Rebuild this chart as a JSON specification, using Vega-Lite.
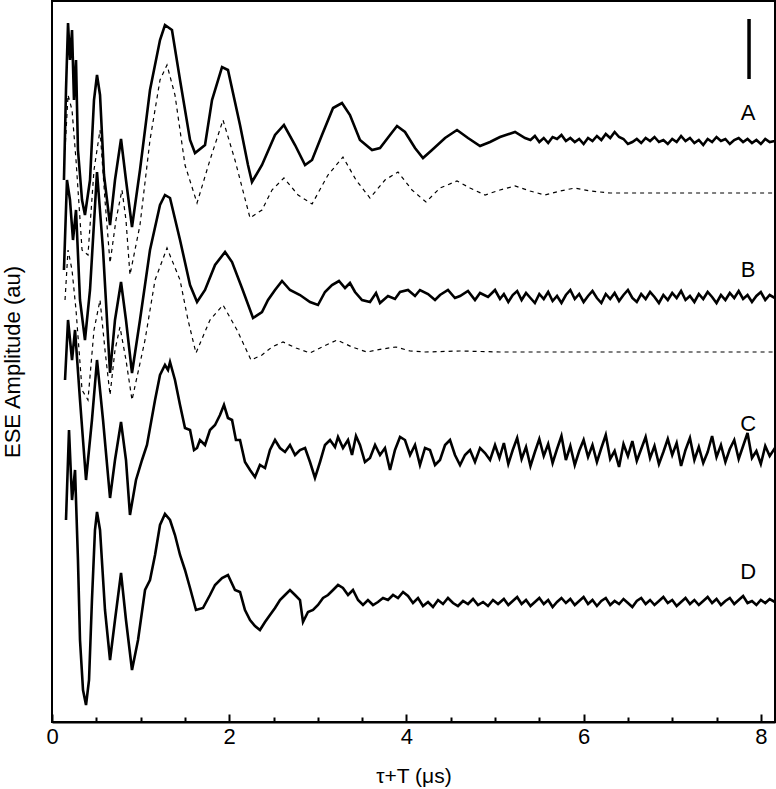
{
  "$schema": "https://vega.github.io/schema/vega-lite/v6.json",
  "width": 723,
  "height": 721,
  "autosize": "none",
  "padding": {"left": 52, "top": 1, "right": 1, "bottom": 67},
  "background": "white",
  "config": {
    "view": {"stroke": "black", "strokeWidth": 2},
    "font": "Liberation Sans"
  },
  "datasets": {
    "solid": [
      {"t":0.135,"a":542,"s":"A"},{"t":0.158,"a":632,"s":"A"},{"t":0.181,"a":699,"s":"A"},{"t":0.203,"a":662,"s":"A"},{"t":0.226,"a":692,"s":"A"},{"t":0.248,"a":622,"s":"A"},{"t":0.271,"a":662,"s":"A"},{"t":0.293,"a":572,"s":"A"},{"t":0.339,"a":522,"s":"A"},{"t":0.372,"a":507,"s":"A"},{"t":0.429,"a":542,"s":"A"},{"t":0.474,"a":622,"s":"A"},{"t":0.508,"a":647,"s":"A"},{"t":0.542,"a":627,"s":"A"},{"t":0.587,"a":547,"s":"A"},{"t":0.655,"a":497,"s":"A"},{"t":0.711,"a":542,"s":"A"},{"t":0.779,"a":583,"s":"A"},{"t":0.835,"a":542,"s":"A"},{"t":0.903,"a":495,"s":"A"},{"t":0.993,"a":552,"s":"A"},{"t":1.106,"a":632,"s":"A"},{"t":1.219,"a":682,"s":"A"},{"t":1.275,"a":697,"s":"A"},{"t":1.354,"a":692,"s":"A"},{"t":1.445,"a":642,"s":"A"},{"t":1.558,"a":582,"s":"A"},{"t":1.614,"a":569,"s":"A"},{"t":1.727,"a":577,"s":"A"},{"t":1.806,"a":622,"s":"A"},{"t":1.919,"a":655,"s":"A"},{"t":1.986,"a":652,"s":"A"},{"t":2.122,"a":597,"s":"A"},{"t":2.212,"a":557,"s":"A"},{"t":2.257,"a":540,"s":"A"},{"t":2.370,"a":557,"s":"A"},{"t":2.517,"a":587,"s":"A"},{"t":2.618,"a":597,"s":"A"},{"t":2.743,"a":577,"s":"A"},{"t":2.856,"a":557,"s":"A"},{"t":2.935,"a":562,"s":"A"},{"t":3.047,"a":587,"s":"A"},{"t":3.172,"a":614,"s":"A"},{"t":3.273,"a":619,"s":"A"},{"t":3.363,"a":607,"s":"A"},{"t":3.476,"a":582,"s":"A"},{"t":3.612,"a":572,"s":"A"},{"t":3.702,"a":574,"s":"A"},{"t":3.815,"a":587,"s":"A"},{"t":3.894,"a":596,"s":"A"},{"t":3.984,"a":590,"s":"A"},{"t":4.097,"a":574,"s":"A"},{"t":4.187,"a":564,"s":"A"},{"t":4.289,"a":572,"s":"A"},{"t":4.436,"a":584,"s":"A"},{"t":4.571,"a":592,"s":"A"},{"t":4.695,"a":584,"s":"A"},{"t":4.831,"a":576,"s":"A"},{"t":4.944,"a":580,"s":"A"},{"t":5.056,"a":585,"s":"A"},{"t":5.226,"a":590,"s":"A"},{"t":5.339,"a":584,"s":"A"},
      {"t":5.40,"a":582,"s":"A"},{"t":5.45,"a":586,"s":"A"},{"t":5.50,"a":580,"s":"A"},{"t":5.55,"a":584,"s":"A"},{"t":5.60,"a":579,"s":"A"},{"t":5.65,"a":585,"s":"A"},{"t":5.70,"a":583,"s":"A"},{"t":5.75,"a":587,"s":"A"},{"t":5.80,"a":581,"s":"A"},{"t":5.85,"a":584,"s":"A"},{"t":5.90,"a":580,"s":"A"},{"t":5.95,"a":583,"s":"A"},{"t":6.00,"a":578,"s":"A"},{"t":6.05,"a":584,"s":"A"},{"t":6.10,"a":581,"s":"A"},{"t":6.15,"a":586,"s":"A"},{"t":6.20,"a":582,"s":"A"},{"t":6.25,"a":588,"s":"A"},{"t":6.30,"a":584,"s":"A"},{"t":6.35,"a":590,"s":"A"},{"t":6.40,"a":585,"s":"A"},{"t":6.45,"a":583,"s":"A"},{"t":6.50,"a":578,"s":"A"},{"t":6.55,"a":580,"s":"A"},{"t":6.60,"a":583,"s":"A"},{"t":6.65,"a":579,"s":"A"},{"t":6.70,"a":584,"s":"A"},{"t":6.75,"a":581,"s":"A"},{"t":6.80,"a":585,"s":"A"},{"t":6.85,"a":580,"s":"A"},{"t":6.90,"a":582,"s":"A"},{"t":6.95,"a":578,"s":"A"},{"t":7.00,"a":583,"s":"A"},{"t":7.05,"a":580,"s":"A"},{"t":7.10,"a":586,"s":"A"},{"t":7.15,"a":581,"s":"A"},{"t":7.20,"a":584,"s":"A"},{"t":7.25,"a":579,"s":"A"},{"t":7.30,"a":582,"s":"A"},{"t":7.35,"a":577,"s":"A"},{"t":7.40,"a":583,"s":"A"},{"t":7.45,"a":580,"s":"A"},{"t":7.50,"a":585,"s":"A"},{"t":7.55,"a":581,"s":"A"},{"t":7.60,"a":583,"s":"A"},{"t":7.65,"a":578,"s":"A"},{"t":7.70,"a":582,"s":"A"},{"t":7.75,"a":584,"s":"A"},{"t":7.80,"a":580,"s":"A"},{"t":7.85,"a":583,"s":"A"},{"t":7.90,"a":579,"s":"A"},{"t":7.95,"a":582,"s":"A"},{"t":8.00,"a":578,"s":"A"},{"t":8.05,"a":583,"s":"A"},{"t":8.10,"a":580,"s":"A"},{"t":8.16,"a":581,"s":"A"},

      {"t":0.135,"a":452,"s":"B"},{"t":0.169,"a":542,"s":"B"},{"t":0.203,"a":522,"s":"B"},{"t":0.237,"a":482,"s":"B"},{"t":0.271,"a":512,"s":"B"},{"t":0.316,"a":422,"s":"B"},{"t":0.372,"a":382,"s":"B"},{"t":0.429,"a":432,"s":"B"},{"t":0.508,"a":550,"s":"B"},{"t":0.576,"a":472,"s":"B"},{"t":0.655,"a":349,"s":"B"},{"t":0.711,"a":402,"s":"B"},{"t":0.779,"a":440,"s":"B"},{"t":0.835,"a":402,"s":"B"},{"t":0.903,"a":349,"s":"B"},{"t":0.993,"a":402,"s":"B"},{"t":1.106,"a":472,"s":"B"},{"t":1.219,"a":517,"s":"B"},{"t":1.275,"a":527,"s":"B"},{"t":1.332,"a":524,"s":"B"},{"t":1.445,"a":482,"s":"B"},{"t":1.558,"a":437,"s":"B"},{"t":1.637,"a":420,"s":"B"},{"t":1.727,"a":432,"s":"B"},{"t":1.840,"a":457,"s":"B"},{"t":1.953,"a":470,"s":"B"},{"t":2.032,"a":460,"s":"B"},{"t":2.144,"a":434,"s":"B"},{"t":2.269,"a":404,"s":"B"},{"t":2.370,"a":410,"s":"B"},{"t":2.438,"a":422,"s":"B"},{"t":2.517,"a":432,"s":"B"},{"t":2.596,"a":441,"s":"B"},{"t":2.686,"a":432,"s":"B"},{"t":2.799,"a":427,"s":"B"},{"t":2.912,"a":420,"s":"B"},{"t":3.002,"a":417,"s":"B"},{"t":3.081,"a":430,"s":"B"},{"t":3.160,"a":437,"s":"B"},{"t":3.239,"a":441,"s":"B"},{"t":3.307,"a":434,"s":"B"},{"t":3.363,"a":439,"s":"B"},{"t":3.420,"a":430,"s":"B"},{"t":3.499,"a":422,"s":"B"},{"t":3.589,"a":420,"s":"B"},{"t":3.657,"a":429,"s":"B"},{"t":3.702,"a":419,"s":"B"},{"t":3.792,"a":426,"s":"B"},{"t":3.871,"a":423,"s":"B"},{"t":3.928,"a":430,"s":"B"},{"t":4.018,"a":432,"s":"B"},{"t":4.097,"a":426,"s":"B"},{"t":4.153,"a":432,"s":"B"},{"t":4.244,"a":428,"s":"B"},{"t":4.323,"a":422,"s":"B"},{"t":4.379,"a":427,"s":"B"},{"t":4.469,"a":432,"s":"B"},{"t":4.548,"a":424,"s":"B"},{"t":4.605,"a":426,"s":"B"},{"t":4.695,"a":431,"s":"B"},{"t":4.774,"a":422,"s":"B"},{"t":4.831,"a":429,"s":"B"},{"t":4.921,"a":425,"s":"B"},{"t":5.000,"a":432,"s":"B"},{"t":5.056,"a":423,"s":"B"},
      {"t":5.10,"a":428,"s":"B"},{"t":5.15,"a":420,"s":"B"},{"t":5.20,"a":427,"s":"B"},{"t":5.25,"a":431,"s":"B"},{"t":5.30,"a":422,"s":"B"},{"t":5.35,"a":429,"s":"B"},{"t":5.40,"a":424,"s":"B"},{"t":5.45,"a":419,"s":"B"},{"t":5.50,"a":428,"s":"B"},{"t":5.55,"a":423,"s":"B"},{"t":5.60,"a":430,"s":"B"},{"t":5.65,"a":421,"s":"B"},{"t":5.70,"a":426,"s":"B"},{"t":5.75,"a":419,"s":"B"},{"t":5.80,"a":427,"s":"B"},{"t":5.85,"a":432,"s":"B"},{"t":5.90,"a":423,"s":"B"},{"t":5.95,"a":428,"s":"B"},{"t":6.00,"a":420,"s":"B"},{"t":6.05,"a":426,"s":"B"},{"t":6.10,"a":431,"s":"B"},{"t":6.15,"a":424,"s":"B"},{"t":6.20,"a":419,"s":"B"},{"t":6.25,"a":428,"s":"B"},{"t":6.30,"a":423,"s":"B"},{"t":6.35,"a":429,"s":"B"},{"t":6.40,"a":421,"s":"B"},{"t":6.45,"a":427,"s":"B"},{"t":6.50,"a":432,"s":"B"},{"t":6.55,"a":424,"s":"B"},{"t":6.60,"a":420,"s":"B"},{"t":6.65,"a":428,"s":"B"},{"t":6.70,"a":423,"s":"B"},{"t":6.75,"a":430,"s":"B"},{"t":6.80,"a":425,"s":"B"},{"t":6.85,"a":419,"s":"B"},{"t":6.90,"a":427,"s":"B"},{"t":6.95,"a":422,"s":"B"},{"t":7.00,"a":429,"s":"B"},{"t":7.05,"a":424,"s":"B"},{"t":7.10,"a":431,"s":"B"},{"t":7.15,"a":422,"s":"B"},{"t":7.20,"a":426,"s":"B"},{"t":7.25,"a":420,"s":"B"},{"t":7.30,"a":428,"s":"B"},{"t":7.35,"a":423,"s":"B"},{"t":7.40,"a":430,"s":"B"},{"t":7.45,"a":425,"s":"B"},{"t":7.50,"a":419,"s":"B"},{"t":7.55,"a":427,"s":"B"},{"t":7.60,"a":422,"s":"B"},{"t":7.65,"a":429,"s":"B"},{"t":7.70,"a":424,"s":"B"},{"t":7.75,"a":431,"s":"B"},{"t":7.80,"a":423,"s":"B"},{"t":7.85,"a":427,"s":"B"},{"t":7.90,"a":420,"s":"B"},{"t":7.95,"a":426,"s":"B"},{"t":8.00,"a":430,"s":"B"},{"t":8.05,"a":422,"s":"B"},{"t":8.10,"a":427,"s":"B"},{"t":8.16,"a":424,"s":"B"},

      {"t":0.147,"a":342,"s":"C"},{"t":0.181,"a":402,"s":"C"},{"t":0.226,"a":362,"s":"C"},{"t":0.260,"a":392,"s":"C"},{"t":0.316,"a":322,"s":"C"},{"t":0.384,"a":242,"s":"C"},{"t":0.451,"a":302,"s":"C"},{"t":0.508,"a":362,"s":"C"},{"t":0.576,"a":302,"s":"C"},{"t":0.655,"a":224,"s":"C"},{"t":0.711,"a":262,"s":"C"},{"t":0.779,"a":300,"s":"C"},{"t":0.835,"a":262,"s":"C"},{"t":0.880,"a":207,"s":"C"},{"t":0.948,"a":242,"s":"C"},{"t":1.016,"a":262,"s":"C"},{"t":1.072,"a":277,"s":"C"},{"t":1.163,"a":322,"s":"C"},{"t":1.219,"a":347,"s":"C"},{"t":1.275,"a":357,"s":"C"},{"t":1.309,"a":352,"s":"C"},{"t":1.332,"a":360,"s":"C"},{"t":1.388,"a":342,"s":"C"},{"t":1.445,"a":317,"s":"C"},{"t":1.501,"a":294,"s":"C"},{"t":1.558,"a":292,"s":"C"},{"t":1.603,"a":272,"s":"C"},{"t":1.637,"a":274,"s":"C"},{"t":1.670,"a":282,"s":"C"},{"t":1.727,"a":277,"s":"C"},{"t":1.783,"a":292,"s":"C"},{"t":1.840,"a":297,"s":"C"},{"t":1.896,"a":307,"s":"C"},{"t":1.941,"a":317,"s":"C"},{"t":1.986,"a":304,"s":"C"},{"t":2.032,"a":302,"s":"C"},{"t":2.076,"a":282,"s":"C"},{"t":2.122,"a":282,"s":"C"},{"t":2.178,"a":260,"s":"C"},{"t":2.235,"a":252,"s":"C"},{"t":2.291,"a":245,"s":"C"},{"t":2.347,"a":257,"s":"C"},{"t":2.404,"a":254,"s":"C"},{"t":2.460,"a":272,"s":"C"},{"t":2.517,"a":282,"s":"C"},{"t":2.573,"a":274,"s":"C"},{"t":2.630,"a":270,"s":"C"},{"t":2.686,"a":277,"s":"C"},{"t":2.743,"a":267,"s":"C"},{"t":2.799,"a":272,"s":"C"},{"t":2.856,"a":274,"s":"C"},{"t":2.912,"a":260,"s":"C"},{"t":2.968,"a":244,"s":"C"},{"t":3.025,"a":260,"s":"C"},{"t":3.081,"a":277,"s":"C"},{"t":3.138,"a":282,"s":"C"},{"t":3.194,"a":275,"s":"C"},{"t":3.228,"a":285,"s":"C"},{"t":3.284,"a":274,"s":"C"},{"t":3.341,"a":282,"s":"C"},{"t":3.386,"a":267,"s":"C"},{"t":3.431,"a":286,"s":"C"},{"t":3.476,"a":277,"s":"C"},{"t":3.532,"a":260,"s":"C"},{"t":3.589,"a":264,"s":"C"},{"t":3.646,"a":277,"s":"C"},{"t":3.702,"a":267,"s":"C"},{"t":3.758,"a":274,"s":"C"},{"t":3.815,"a":252,"s":"C"},{"t":3.871,"a":272,"s":"C"},{"t":3.928,"a":285,"s":"C"},{"t":3.984,"a":282,"s":"C"},{"t":4.041,"a":267,"s":"C"},{"t":4.097,"a":277,"s":"C"},{"t":4.153,"a":257,"s":"C"},{"t":4.210,"a":274,"s":"C"},{"t":4.266,"a":272,"s":"C"},{"t":4.323,"a":257,"s":"C"},{"t":4.379,"a":262,"s":"C"},{"t":4.436,"a":277,"s":"C"},{"t":4.492,"a":282,"s":"C"},{"t":4.548,"a":267,"s":"C"},{"t":4.605,"a":257,"s":"C"},{"t":4.661,"a":267,"s":"C"},{"t":4.718,"a":272,"s":"C"},{"t":4.774,"a":260,"s":"C"},{"t":4.831,"a":274,"s":"C"},{"t":4.887,"a":269,"s":"C"},{"t":4.944,"a":262,"s":"C"},{"t":5.000,"a":277,"s":"C"},
      {"t":5.05,"a":264,"s":"C"},{"t":5.10,"a":279,"s":"C"},{"t":5.15,"a":258,"s":"C"},{"t":5.20,"a":272,"s":"C"},{"t":5.25,"a":284,"s":"C"},{"t":5.30,"a":263,"s":"C"},{"t":5.35,"a":275,"s":"C"},{"t":5.40,"a":256,"s":"C"},{"t":5.45,"a":270,"s":"C"},{"t":5.50,"a":283,"s":"C"},{"t":5.55,"a":266,"s":"C"},{"t":5.60,"a":278,"s":"C"},{"t":5.65,"a":259,"s":"C"},{"t":5.70,"a":273,"s":"C"},{"t":5.75,"a":286,"s":"C"},{"t":5.80,"a":262,"s":"C"},{"t":5.85,"a":276,"s":"C"},{"t":5.90,"a":257,"s":"C"},{"t":5.95,"a":271,"s":"C"},{"t":6.00,"a":282,"s":"C"},{"t":6.05,"a":265,"s":"C"},{"t":6.10,"a":277,"s":"C"},{"t":6.15,"a":260,"s":"C"},{"t":6.20,"a":274,"s":"C"},{"t":6.25,"a":287,"s":"C"},{"t":6.30,"a":263,"s":"C"},{"t":6.35,"a":271,"s":"C"},{"t":6.40,"a":255,"s":"C"},{"t":6.45,"a":278,"s":"C"},{"t":6.50,"a":266,"s":"C"},{"t":6.55,"a":281,"s":"C"},{"t":6.60,"a":261,"s":"C"},{"t":6.65,"a":273,"s":"C"},{"t":6.70,"a":285,"s":"C"},{"t":6.75,"a":264,"s":"C"},{"t":6.80,"a":276,"s":"C"},{"t":6.85,"a":258,"s":"C"},{"t":6.90,"a":270,"s":"C"},{"t":6.95,"a":283,"s":"C"},{"t":7.00,"a":267,"s":"C"},{"t":7.05,"a":279,"s":"C"},{"t":7.10,"a":256,"s":"C"},{"t":7.15,"a":272,"s":"C"},{"t":7.20,"a":284,"s":"C"},{"t":7.25,"a":262,"s":"C"},{"t":7.30,"a":275,"s":"C"},{"t":7.35,"a":259,"s":"C"},{"t":7.40,"a":270,"s":"C"},{"t":7.45,"a":286,"s":"C"},{"t":7.50,"a":265,"s":"C"},{"t":7.55,"a":277,"s":"C"},{"t":7.60,"a":260,"s":"C"},{"t":7.65,"a":273,"s":"C"},{"t":7.70,"a":282,"s":"C"},{"t":7.75,"a":263,"s":"C"},{"t":7.80,"a":276,"s":"C"},{"t":7.85,"a":289,"s":"C"},{"t":7.90,"a":264,"s":"C"},{"t":7.95,"a":271,"s":"C"},{"t":8.00,"a":258,"s":"C"},{"t":8.05,"a":276,"s":"C"},{"t":8.10,"a":266,"s":"C"},{"t":8.16,"a":274,"s":"C"},

      {"t":0.158,"a":202,"s":"D"},{"t":0.192,"a":292,"s":"D"},{"t":0.226,"a":222,"s":"D"},{"t":0.260,"a":252,"s":"D"},{"t":0.293,"a":162,"s":"D"},{"t":0.316,"a":82,"s":"D"},{"t":0.350,"a":32,"s":"D"},{"t":0.384,"a":17,"s":"D"},{"t":0.418,"a":42,"s":"D"},{"t":0.451,"a":122,"s":"D"},{"t":0.485,"a":192,"s":"D"},{"t":0.508,"a":210,"s":"D"},{"t":0.542,"a":192,"s":"D"},{"t":0.598,"a":112,"s":"D"},{"t":0.655,"a":62,"s":"D"},{"t":0.711,"a":102,"s":"D"},{"t":0.779,"a":149,"s":"D"},{"t":0.835,"a":102,"s":"D"},{"t":0.903,"a":52,"s":"D"},{"t":0.971,"a":82,"s":"D"},{"t":1.050,"a":132,"s":"D"},{"t":1.106,"a":142,"s":"D"},{"t":1.163,"a":167,"s":"D"},{"t":1.219,"a":197,"s":"D"},{"t":1.275,"a":208,"s":"D"},{"t":1.332,"a":202,"s":"D"},{"t":1.388,"a":187,"s":"D"},{"t":1.445,"a":167,"s":"D"},{"t":1.501,"a":152,"s":"D"},{"t":1.558,"a":134,"s":"D"},{"t":1.625,"a":112,"s":"D"},{"t":1.704,"a":114,"s":"D"},{"t":1.783,"a":127,"s":"D"},{"t":1.840,"a":137,"s":"D"},{"t":1.919,"a":144,"s":"D"},{"t":1.986,"a":147,"s":"D"},{"t":2.065,"a":132,"s":"D"},{"t":2.122,"a":130,"s":"D"},{"t":2.178,"a":112,"s":"D"},{"t":2.235,"a":102,"s":"D"},{"t":2.291,"a":96,"s":"D"},{"t":2.347,"a":92,"s":"D"},{"t":2.404,"a":100,"s":"D"},{"t":2.460,"a":107,"s":"D"},{"t":2.517,"a":114,"s":"D"},{"t":2.573,"a":122,"s":"D"},{"t":2.630,"a":127,"s":"D"},{"t":2.686,"a":132,"s":"D"},{"t":2.743,"a":127,"s":"D"},{"t":2.799,"a":122,"s":"D"},{"t":2.833,"a":100,"s":"D"},{"t":2.889,"a":110,"s":"D"},{"t":2.946,"a":112,"s":"D"},{"t":3.002,"a":117,"s":"D"},{"t":3.059,"a":124,"s":"D"},{"t":3.115,"a":127,"s":"D"},{"t":3.172,"a":132,"s":"D"},{"t":3.228,"a":137,"s":"D"},{"t":3.284,"a":134,"s":"D"},{"t":3.341,"a":127,"s":"D"},{"t":3.397,"a":132,"s":"D"},{"t":3.454,"a":122,"s":"D"},{"t":3.510,"a":117,"s":"D"},{"t":3.566,"a":122,"s":"D"},{"t":3.623,"a":117,"s":"D"},{"t":3.679,"a":120,"s":"D"},{"t":3.736,"a":124,"s":"D"},{"t":3.792,"a":122,"s":"D"},{"t":3.849,"a":127,"s":"D"},{"t":3.905,"a":124,"s":"D"},{"t":3.962,"a":130,"s":"D"},{"t":4.018,"a":126,"s":"D"},{"t":4.074,"a":119,"s":"D"},{"t":4.131,"a":124,"s":"D"},{"t":4.187,"a":116,"s":"D"},{"t":4.244,"a":120,"s":"D"},{"t":4.300,"a":115,"s":"D"},{"t":4.357,"a":122,"s":"D"},{"t":4.413,"a":118,"s":"D"},{"t":4.469,"a":124,"s":"D"},{"t":4.526,"a":119,"s":"D"},{"t":4.582,"a":116,"s":"D"},{"t":4.639,"a":121,"s":"D"},{"t":4.695,"a":118,"s":"D"},{"t":4.752,"a":123,"s":"D"},{"t":4.808,"a":117,"s":"D"},{"t":4.865,"a":120,"s":"D"},{"t":4.921,"a":116,"s":"D"},{"t":4.977,"a":122,"s":"D"},{"t":5.034,"a":118,"s":"D"},
      {"t":5.10,"a":123,"s":"D"},{"t":5.15,"a":117,"s":"D"},{"t":5.20,"a":121,"s":"D"},{"t":5.25,"a":125,"s":"D"},{"t":5.30,"a":118,"s":"D"},{"t":5.35,"a":122,"s":"D"},{"t":5.40,"a":116,"s":"D"},{"t":5.45,"a":120,"s":"D"},{"t":5.50,"a":124,"s":"D"},{"t":5.55,"a":118,"s":"D"},{"t":5.60,"a":122,"s":"D"},{"t":5.65,"a":115,"s":"D"},{"t":5.70,"a":120,"s":"D"},{"t":5.75,"a":124,"s":"D"},{"t":5.80,"a":119,"s":"D"},{"t":5.85,"a":123,"s":"D"},{"t":5.90,"a":117,"s":"D"},{"t":5.95,"a":121,"s":"D"},{"t":6.00,"a":125,"s":"D"},{"t":6.05,"a":118,"s":"D"},{"t":6.10,"a":122,"s":"D"},{"t":6.15,"a":116,"s":"D"},{"t":6.20,"a":121,"s":"D"},{"t":6.25,"a":124,"s":"D"},{"t":6.30,"a":117,"s":"D"},{"t":6.35,"a":121,"s":"D"},{"t":6.40,"a":118,"s":"D"},{"t":6.45,"a":123,"s":"D"},{"t":6.50,"a":119,"s":"D"},{"t":6.55,"a":115,"s":"D"},{"t":6.60,"a":121,"s":"D"},{"t":6.65,"a":124,"s":"D"},{"t":6.70,"a":118,"s":"D"},{"t":6.75,"a":122,"s":"D"},{"t":6.80,"a":117,"s":"D"},{"t":6.85,"a":121,"s":"D"},{"t":6.90,"a":125,"s":"D"},{"t":6.95,"a":119,"s":"D"},{"t":7.00,"a":122,"s":"D"},{"t":7.05,"a":116,"s":"D"},{"t":7.10,"a":120,"s":"D"},{"t":7.15,"a":124,"s":"D"},{"t":7.20,"a":118,"s":"D"},{"t":7.25,"a":122,"s":"D"},{"t":7.30,"a":117,"s":"D"},{"t":7.35,"a":121,"s":"D"},{"t":7.40,"a":125,"s":"D"},{"t":7.45,"a":119,"s":"D"},{"t":7.50,"a":123,"s":"D"},{"t":7.55,"a":117,"s":"D"},{"t":7.60,"a":121,"s":"D"},{"t":7.65,"a":124,"s":"D"},{"t":7.70,"a":118,"s":"D"},{"t":7.75,"a":122,"s":"D"},{"t":7.80,"a":126,"s":"D"},{"t":7.85,"a":119,"s":"D"},{"t":7.90,"a":121,"s":"D"},{"t":7.95,"a":117,"s":"D"},{"t":8.00,"a":122,"s":"D"},{"t":8.05,"a":119,"s":"D"},{"t":8.10,"a":123,"s":"D"},{"t":8.16,"a":120,"s":"D"}
    ],
    "sim": [
      {"t":0.147,"a":572,"s":"A"},{"t":0.181,"a":627,"s":"A"},{"t":0.226,"a":612,"s":"A"},{"t":0.271,"a":562,"s":"A"},{"t":0.339,"a":472,"s":"A"},{"t":0.406,"a":467,"s":"A"},{"t":0.474,"a":552,"s":"A"},{"t":0.542,"a":592,"s":"A"},{"t":0.598,"a":522,"s":"A"},{"t":0.655,"a":459,"s":"A"},{"t":0.722,"a":502,"s":"A"},{"t":0.790,"a":532,"s":"A"},{"t":0.835,"a":502,"s":"A"},{"t":0.880,"a":447,"s":"A"},{"t":0.993,"a":497,"s":"A"},{"t":1.106,"a":582,"s":"A"},{"t":1.219,"a":642,"s":"A"},{"t":1.298,"a":657,"s":"A"},{"t":1.388,"a":627,"s":"A"},{"t":1.501,"a":557,"s":"A"},{"t":1.637,"a":519,"s":"A"},{"t":1.783,"a":562,"s":"A"},{"t":1.930,"a":602,"s":"A"},{"t":2.065,"a":562,"s":"A"},{"t":2.235,"a":504,"s":"A"},{"t":2.370,"a":512,"s":"A"},{"t":2.483,"a":532,"s":"A"},{"t":2.618,"a":544,"s":"A"},{"t":2.777,"a":527,"s":"A"},{"t":2.935,"a":518,"s":"A"},{"t":3.115,"a":547,"s":"A"},{"t":3.284,"a":565,"s":"A"},{"t":3.431,"a":542,"s":"A"},{"t":3.589,"a":524,"s":"A"},{"t":3.758,"a":542,"s":"A"},{"t":3.905,"a":550,"s":"A"},{"t":4.063,"a":532,"s":"A"},{"t":4.221,"a":520,"s":"A"},{"t":4.379,"a":534,"s":"A"},{"t":4.571,"a":541,"s":"A"},{"t":4.718,"a":534,"s":"A"},{"t":4.887,"a":527,"s":"A"},{"t":5.056,"a":532,"s":"A"},{"t":5.226,"a":536,"s":"A"},{"t":5.395,"a":531,"s":"A"},{"t":5.564,"a":527,"s":"A"},{"t":5.734,"a":531,"s":"A"},{"t":5.903,"a":534,"s":"A"},{"t":6.072,"a":531,"s":"A"},{"t":6.298,"a":529,"s":"A"},{"t":6.749,"a":529,"s":"A"},{"t":7.314,"a":529,"s":"A"},{"t":8.160,"a":529,"s":"A"},
      {"t":0.147,"a":422,"s":"B"},{"t":0.181,"a":472,"s":"B"},{"t":0.226,"a":452,"s":"B"},{"t":0.271,"a":412,"s":"B"},{"t":0.339,"a":332,"s":"B"},{"t":0.406,"a":322,"s":"B"},{"t":0.474,"a":392,"s":"B"},{"t":0.542,"a":422,"s":"B"},{"t":0.598,"a":372,"s":"B"},{"t":0.655,"a":327,"s":"B"},{"t":0.711,"a":372,"s":"B"},{"t":0.767,"a":395,"s":"B"},{"t":0.835,"a":362,"s":"B"},{"t":0.903,"a":322,"s":"B"},{"t":1.050,"a":382,"s":"B"},{"t":1.163,"a":442,"s":"B"},{"t":1.298,"a":474,"s":"B"},{"t":1.445,"a":442,"s":"B"},{"t":1.535,"a":402,"s":"B"},{"t":1.625,"a":369,"s":"B"},{"t":1.783,"a":402,"s":"B"},{"t":1.930,"a":417,"s":"B"},{"t":2.088,"a":392,"s":"B"},{"t":2.246,"a":362,"s":"B"},{"t":2.370,"a":367,"s":"B"},{"t":2.483,"a":375,"s":"B"},{"t":2.607,"a":380,"s":"B"},{"t":2.754,"a":374,"s":"B"},{"t":2.912,"a":369,"s":"B"},{"t":3.070,"a":376,"s":"B"},{"t":3.217,"a":382,"s":"B"},{"t":3.386,"a":375,"s":"B"},{"t":3.555,"a":370,"s":"B"},{"t":3.725,"a":373,"s":"B"},{"t":3.883,"a":375,"s":"B"},{"t":4.041,"a":371,"s":"B"},{"t":4.210,"a":370,"s":"B"},{"t":4.605,"a":371,"s":"B"},{"t":5.056,"a":370,"s":"B"},{"t":5.621,"a":370,"s":"B"},{"t":8.160,"a":370,"s":"B"}
    ],
    "labels": [
      {"t":7.856,"a":609,"txt":"A"},
      {"t":7.856,"a":452,"txt":"B"},
      {"t":7.856,"a":298,"txt":"C"},
      {"t":7.856,"a":150,"txt":"D"}
    ],
    "bar": [{"t":7.867,"a1":643,"a2":703}]
  },
  "encoding": {
    "x": {
      "field": "t", "type": "quantitative",
      "scale": {"domain": [0, 8.16], "nice": false, "zero": false},
      "axis": {
        "title": "τ+T (μs)",
        "values": [0,0.5,1,1.5,2,2.5,3,3.5,4,4.5,5,5.5,6,6.5,7,7.5,8],
        "labelExpr": "datum.value % 2 === 0 ? format(datum.value, 'd') : ''",
        "labelOverlap": false,
        "labelFlush": false,
        "grid": false,
        "domainColor": "black",
        "domainWidth": 2,
        "tickColor": "black",
        "tickWidth": 2,
        "tickSize": {"condition": {"test": "datum.value % 2 === 0", "value": -8}, "value": -5},
        "labelFontSize": 22,
        "labelColor": "black",
        "labelPadding": 12,
        "titleFontSize": 21,
        "titleFontWeight": "normal",
        "titleColor": "black",
        "titlePadding": 15
      }
    },
    "y": {
      "field": "a", "type": "quantitative",
      "scale": {"domain": [0, 721], "nice": false, "zero": false},
      "axis": {
        "title": "ESE Amplitude (au)",
        "labels": false, "ticks": false, "domain": false, "grid": false,
        "titleFontSize": 22, "titleFontWeight": "normal", "titleColor": "black",
        "titlePadding": 28
      }
    }
  },
  "layer": [
    {
      "data": {"name": "sim"},
      "mark": {"type": "line", "color": "black", "strokeWidth": 1.2, "strokeDash": [4, 4], "clip": true},
      "encoding": {"detail": {"field": "s"}}
    },
    {
      "data": {"name": "solid"},
      "mark": {"type": "line", "color": "black", "strokeWidth": 2.6, "clip": true},
      "encoding": {"detail": {"field": "s"}}
    },
    {
      "data": {"name": "bar"},
      "mark": {"type": "rule", "color": "black", "strokeWidth": 3.5},
      "encoding": {"y": {"field": "a1", "type": "quantitative"}, "y2": {"field": "a2"}}
    },
    {
      "data": {"name": "labels"},
      "mark": {"type": "text", "fontSize": 22, "color": "black", "align": "center", "baseline": "middle"},
      "encoding": {"text": {"field": "txt"}}
    }
  ]
}
